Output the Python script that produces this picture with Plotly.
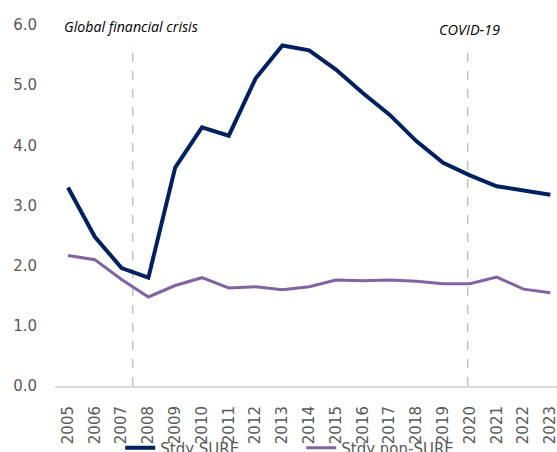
import plotly.graph_objects as go

years = [str(y) for y in range(2005, 2024)]
sure = [3.30, 2.48, 1.96, 1.80, 3.63, 4.30, 4.16, 5.11, 5.66, 5.58, 5.26, 4.87,
        4.51, 4.07, 3.71, 3.50, 3.32, 3.25, 3.18]
non_sure = [2.17, 2.10, 1.77, 1.48, 1.67, 1.80, 1.63, 1.65, 1.60, 1.65, 1.76, 1.75,
            1.76, 1.74, 1.70, 1.70, 1.81, 1.61, 1.55]
y_ticks = [0, 1, 2, 3, 4, 5, 6]
y_tick_labels = ["0.0", "1.0", "2.0", "3.0", "4.0", "5.0", "6.0"]
event_labels = ["Global financial crisis", "COVID-19"]
event_positions = [2.42, 14.92]

x_idx = list(range(len(years)))

fig = go.Figure()
fig.add_trace(go.Scatter(x=x_idx, y=sure, mode="lines", name="Stdy SURE",
                         line=dict(color="#002060", width=4)))
fig.add_trace(go.Scatter(x=x_idx, y=non_sure, mode="lines", name="Stdy non-SURE",
                         line=dict(color="#8064A2", width=3)))

for xpos in event_positions:
    fig.add_shape(type="line", x0=xpos, x1=xpos, y0=0, y1=5.69, xref="x", yref="y",
                  line=dict(color="#a6a6a6", width=1, dash="dash"), layer="below")

fig.add_annotation(text="<i>" + event_labels[0] + "</i>", x=-0.485, xanchor="left",
                   xshift=7, y=0.9958, yref="paper", yanchor="middle", showarrow=False,
                   font=dict(family="Open Sans", size=14.2, color="#000000"))
fig.add_annotation(text="<i>" + event_labels[1] + "</i>", x=event_positions[1], xanchor="center",
                   xshift=2, y=0.988, yref="paper", yanchor="middle", showarrow=False,
                   font=dict(family="Open Sans", size=14.5, color="#000000"))

fig.update_layout(
    width=557, height=452,
    margin=dict(l=55, r=0, t=25, b=66, autoexpand=False),
    paper_bgcolor="white", plot_bgcolor="white",
    font=dict(family="DejaVu Sans", size=15, color="#595959"),
    showlegend=True,
    legend=dict(orientation="h", x=0.13, xanchor="left", y=-0.172, yanchor="middle",
                font=dict(size=15, color="#595959"), entrywidth=136,
                bgcolor="rgba(0,0,0,0)", itemwidth=30),
    xaxis=dict(tickmode="array", tickvals=x_idx, ticktext=years, tickangle=-90,
               range=[-0.485, 18.25], showgrid=False, zeroline=False,
               showline=True, linecolor="#d9d9d9", linewidth=2,
               ticks="outside", ticklen=12, tickcolor="rgba(0,0,0,0)",
               ticklabeloverflow="allow"),
    yaxis=dict(tickmode="array", tickvals=y_ticks, ticktext=y_tick_labels,
               range=[0, 6], showgrid=False, zeroline=False, showline=False,
               ticks="outside", ticklen=14, tickcolor="rgba(0,0,0,0)"),
)

fig.write_html("out.html", config={"displayModeBar": False},
               post_script="document.body.style.margin='0';")
